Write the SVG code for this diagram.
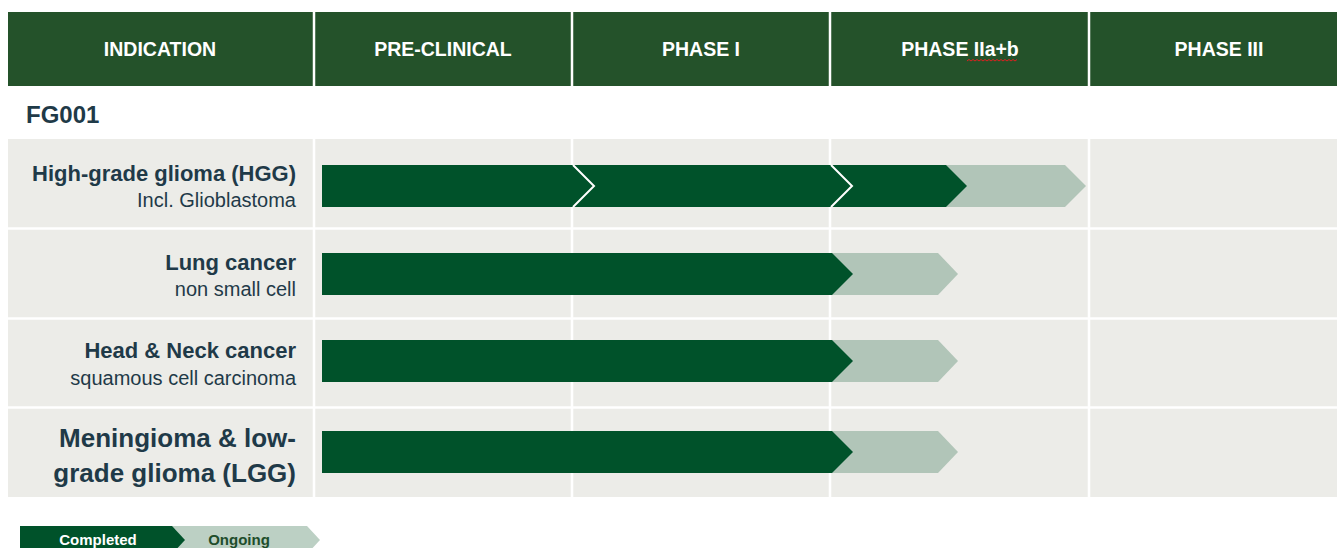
<svg xmlns="http://www.w3.org/2000/svg" width="1337" height="548" viewBox="0 0 1337 548">
<style>
.hdr{fill:#24522a}
.ht{font-family:"Liberation Sans",Arial,sans-serif;font-weight:bold;font-size:19.5px;fill:#ffffff;text-anchor:middle}
.cell{fill:#ecece8}
.sep{stroke:#ffffff;stroke-width:2.5}
.dark{fill:#00522a}
.light{fill:#b1c5b8}
.chev{fill:none;stroke:#ffffff;stroke-width:2}
.t1{font-family:"Liberation Sans",Arial,sans-serif;font-weight:bold;font-size:22px;fill:#1f3a48;text-anchor:end}
.t2{font-family:"Liberation Sans",Arial,sans-serif;font-size:20px;fill:#1f3a48;text-anchor:end}
.t3{font-family:"Liberation Sans",Arial,sans-serif;font-weight:bold;font-size:26px;fill:#1f3a48;text-anchor:end}
.lg{font-family:"Liberation Sans",Arial,sans-serif;font-weight:bold;font-size:15px;text-anchor:middle}
</style>
<rect width="1337" height="548" fill="#ffffff"/>
<g id="header">
<rect class="hdr" x="8" y="12" width="1329" height="74"/>
<line class="sep" x1="314" y1="12" x2="314" y2="86"/>
<line class="sep" x1="572" y1="12" x2="572" y2="86"/>
<line class="sep" x1="830" y1="12" x2="830" y2="86"/>
<line class="sep" x1="1089" y1="12" x2="1089" y2="86"/>
<text class="ht" x="160" y="56">INDICATION</text>
<text class="ht" x="443" y="56">PRE-CLINICAL</text>
<text class="ht" x="701" y="56">PHASE I</text>
<text class="ht" x="960" y="56">PHASE IIa+b</text>
<text class="ht" x="1219" y="56">PHASE III</text>
<path d="M967 61 l2 -1.5 l2 1.5 l2 -1.5 l2 1.5 l2 -1.5 l2 1.5 l2 -1.5 l2 1.5 l2 -1.5 l2 1.5 l2 -1.5 l2 1.5 l2 -1.5 l2 1.5 l2 -1.5 l2 1.5 l2 -1.5 l2 1.5 l2 -1.5 l2 1.5 l2 -1.5 l2 1.5 l2 -1.5 l2 1.5 l2 -1.5" fill="none" stroke="#e02020" stroke-width="1"/>
</g>
<g id="fg001">
<text x="26" y="123" font-family="Liberation Sans,Arial,sans-serif" font-weight="bold" font-size="24" fill="#1f3a48">FG001</text>
</g>
<g id="grid">
<rect class="cell" x="8" y="139" width="1329" height="358"/>
<line class="sep" x1="8" y1="228.5" x2="1337" y2="228.5"/>
<line class="sep" x1="8" y1="318.5" x2="1337" y2="318.5"/>
<line class="sep" x1="8" y1="407.5" x2="1337" y2="407.5"/>
<line class="sep" x1="314" y1="139" x2="314" y2="497"/>
<line class="sep" x1="572" y1="139" x2="572" y2="497"/>
<line class="sep" x1="830" y1="139" x2="830" y2="497"/>
<line class="sep" x1="1089" y1="139" x2="1089" y2="497"/>
</g>
<g id="row-hgg">
<text class="t1" x="296" y="181">High-grade glioma (HGG)</text>
<text class="t2" x="296" y="207">Incl. Glioblastoma</text>
<polygon class="light" points="940,165 1065,165 1086,186 1065,207 940,207"/>
<polygon class="dark" points="322,165 946,165 967,186 946,207 322,207"/>
<polyline class="chev" points="573,165 594,186 573,207"/>
<polyline class="chev" points="831,165 852,186 831,207"/>
</g>
<g id="row-lung">
<text class="t1" x="296" y="270">Lung cancer</text>
<text class="t2" x="296" y="296">non small cell</text>
<polygon class="light" points="826,253 938,253 958,274 938,295 826,295"/>
<polygon class="dark" points="322,253 832,253 853,274 832,295 322,295"/>
</g>
<g id="row-headneck">
<text class="t1" x="296" y="358">Head &amp; Neck cancer</text>
<text class="t2" x="296" y="385">squamous cell carcinoma</text>
<polygon class="light" points="826,340 938,340 958,361 938,382 826,382"/>
<polygon class="dark" points="322,340 832,340 853,361 832,382 322,382"/>
</g>
<g id="row-lgg">
<text class="t3" x="296" y="447">Meningioma &amp; low-</text>
<text class="t3" x="296" y="482">grade glioma (LGG)</text>
<polygon class="light" points="826,431 938,431 958,452 938,473 826,473"/>
<polygon class="dark" points="322,431 832,431 853,452 832,473 322,473"/>
</g>
<g id="legend">
<polygon points="165,526 307,526 320,540 307,554 165,554" fill="#bcd0c4"/>
<polygon points="20,526 172,526 185,540 172,554 20,554" fill="#00522a"/>
<text class="lg" x="98" y="545" fill="#ffffff">Completed</text>
<text class="lg" x="239" y="545" fill="#1e4d2b">Ongoing</text>
</g>
</svg>
